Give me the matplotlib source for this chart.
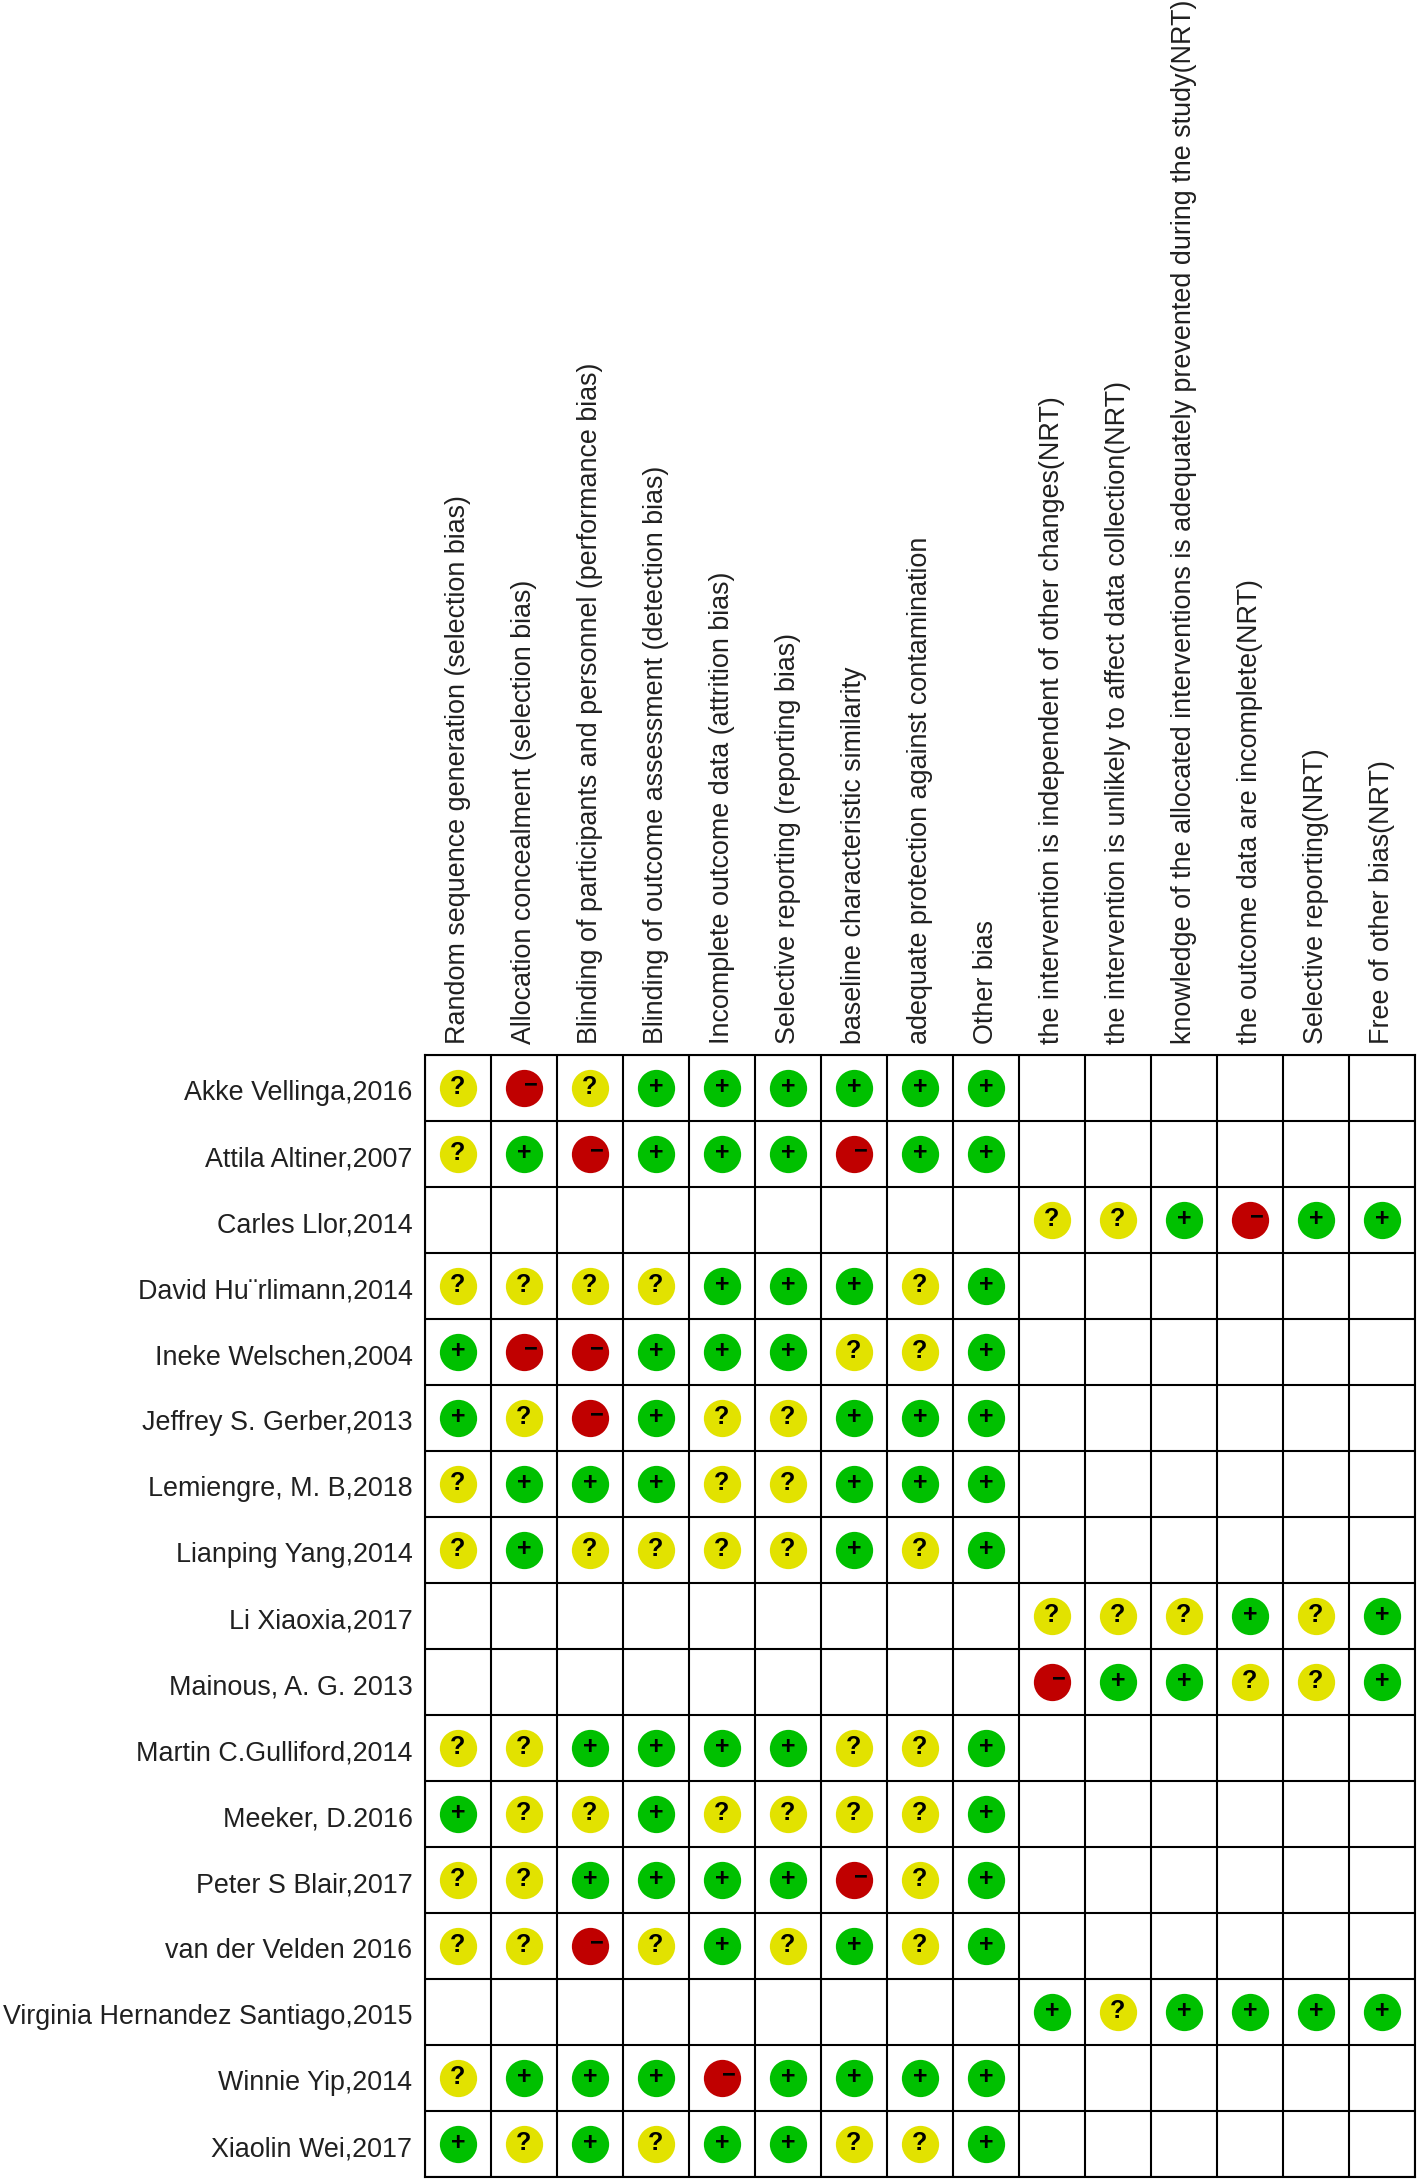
import matplotlib
matplotlib.use("Agg")
import matplotlib.pyplot as plt
import matplotlib.transforms as mtrans
import numpy as np

OUTPUT_IMG = "out.png"
W, H = 1418, 2180
LEFT, TOP, CELL = 425, 1055, 66

domains = [
    "Random sequence generation (selection bias)",
    "Allocation concealment (selection bias)",
    "Blinding of participants and personnel (performance bias)",
    "Blinding of outcome assessment (detection bias)",
    "Incomplete outcome data (attrition bias)",
    "Selective reporting (reporting bias)",
    "baseline characteristic similarity",
    "adequate protection against contamination",
    "Other bias",
    "the intervention is independent of other changes(NRT)",
    "the intervention is unlikely to affect data collection(NRT)",
    "knowledge of the allocated interventions is adequately prevented during the study(NRT)",
    "the outcome data are incomplete(NRT)",
    "Selective reporting(NRT)",
    "Free of other bias(NRT)",
]

studies = [
    "Akke Vellinga,2016",
    "Attila Altiner,2007",
    "Carles Llor,2014",
    "David Hu\u00a8rlimann,2014",
    "Ineke Welschen,2004",
    "Jeffrey S. Gerber,2013",
    "Lemiengre, M. B,2018",
    "Lianping Yang,2014",
    "Li Xiaoxia,2017",
    "Mainous, A. G. 2013",
    "Martin C.Gulliford,2014",
    "Meeker, D.2016",
    "Peter S Blair,2017",
    "van der Velden 2016",
    "Virginia Hernandez Santiago,2015",
    "Winnie Yip,2014",
    "Xiaolin Wei,2017",
]

# one string per study, one char per domain, "." = not assessed
ratings = [
    "?-?++++++......",
    "?+-+++-++......",
    ".........??+-++",
    "????+++?+......",
    "+--+++??+......",
    "+?-+??+++......",
    "?+++??+++......",
    "?+????+?+......",
    ".........???+?+",
    ".........-++??+",
    "??++++??+......",
    "+??+????+......",
    "??++++-?+......",
    "??-?+?+?+......",
    ".........+?++++",
    "?+++-++++......",
    "+?+?++??+......",
]

colors = {"+": "#00c000", "?": "#e2e200", "-": "#c00000"}

def main():
    fig = plt.figure(figsize=(W / 100, H / 100), dpi=100)
    plt.rcParams["font.family"] = ["Liberation Sans", "DejaVu Sans"]

    n_rows, n_cols = len(studies), len(domains)
    ax = fig.add_axes([LEFT / W, 1 - (TOP + n_rows * CELL) / H,
                       n_cols * CELL / W, n_rows * CELL / H])
    ax.set_xlim(0, n_cols)
    ax.set_ylim(n_rows, 0)

    ax.set_xticks(np.arange(n_cols) + 0.5)
    ax.set_xticklabels(domains, rotation=90, fontsize=19.4, color="#202020",
                       family="Liberation Sans")
    ax.set_yticks(np.arange(n_rows) + 0.5)
    ax.set_yticklabels(studies, fontsize=19.4, color="#202020",
                       family="Liberation Sans")
    ax.xaxis.tick_top()
    ax.tick_params(axis="x", which="major", length=0, pad=8)
    ax.tick_params(axis="y", which="major", length=0, pad=9)

    # labels sit a little lower than the cell centres in the original
    nudge = mtrans.ScaledTranslation(0, -2 / 100, fig.dpi_scale_trans)
    for lab in ax.get_yticklabels():
        lab.set_transform(lab.get_transform() + nudge)

    # cell borders
    ax.set_xticks(np.arange(n_cols + 1), minor=True)
    ax.set_yticks(np.arange(n_rows + 1), minor=True)
    ax.tick_params(which="minor", length=0)
    ax.grid(which="minor", color="black", linewidth=1.5)
    ax.set_axisbelow(True)
    for spine in ax.spines.values():
        spine.set_linewidth(1.5)

    for r, row in enumerate(ratings):
        for c, val in enumerate(row):
            if val == ".":
                continue
            ax.scatter(c + 0.5, r + 0.5, s=720, color=colors[val],
                       linewidths=0, zorder=3, clip_on=False)
            if val == "-":
                ax.text(c + 0.6, r + 0.46, "\u2212", fontsize=17, fontweight="bold",
                        ha="center", va="center", color="black", zorder=4)
            else:
                ax.text(c + 0.5, r + 0.49, val, fontsize=18, fontweight="bold",
                        ha="center", va="center", color="black", zorder=4)

    plt.savefig(OUTPUT_IMG, dpi=100)

if __name__ == "__main__":
    main()
